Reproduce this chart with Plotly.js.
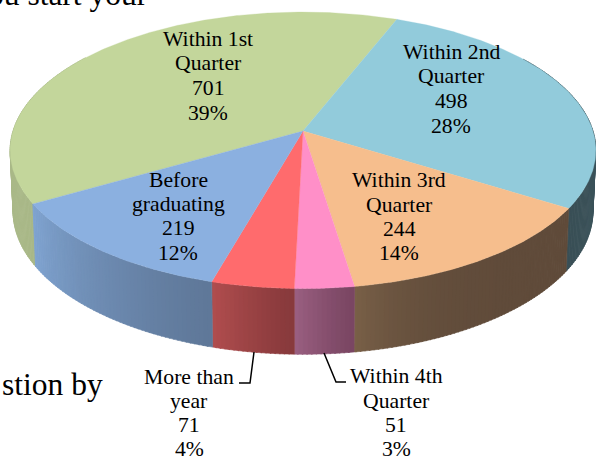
<!DOCTYPE html>
<html>
<head>
<meta charset="utf-8">
<script src="https://cdn.plot.ly/plotly-3.0.1.min.js"></script>
<style>html,body{margin:0;padding:0;background:#fff;overflow:hidden}</style>
</head>
<body>
<div id="chart" style="width:596px;height:459px"></div>
<script>
// Data
const categories = ["Within 1st Quarter", "Within 2nd Quarter", "Within 3rd Quarter", "Within 4th Quarter", "More than year", "Before graduating"];
const values = [701, 498, 244, 51, 71, 219];
const labelLines = [["Within 1st", "Quarter"], ["Within 2nd", "Quarter"], ["Within 3rd", "Quarter"], ["Within 4th", "Quarter"], ["More than", "year"], ["Before", "graduating"]];
const topColors = ["#C3D69B", "#92CBDB", "#F6BE8D", "#FF8FC8", "#FF6B6D", "#8BB0E0"];
const wallStart = ["#A9B888", "#3F5A62", "#604B3A", "#7A4663", "#883A3C", "#5F7899"];
const wallEnd = ["#A9B888", "#3A5057", "#7A6148", "#9C6082", "#B24E4F", "#80A4D1"];
const labelX = [208, 451, 399, 396, 189, 178];
const labelY = [[39, 63, 88, 113], [52, 76, 101, 126], [180, 205, 229, 253], [376, 401, 425, 449], [377, 401, 425, 449], [180, 204, 228, 253]];
const bodyText = [["ou start your", 150, 14, "bottom"], ["stion by", 105, 384, "middle"]];
const leaders = [[[254, 352], [250, 383], [239, 383]], [[324, 353], [336, 382], [346, 382]]];

// Geometry of the tilted pie
const startAngle = 240, cx = 303, cy = 131, rx = 290, ry = 135.6, persp = 0.14;
const rad = Math.PI / 180;
function rim(a) {
  const d = 1 + persp * Math.cos(a * rad);
  return [cx + rx * Math.sin(a * rad) / d, cy - ry * Math.cos(a * rad) / d];
}
function lower(p) {
  return [cx + (p[0] - cx) * 0.99, cy + (p[1] - cy) * 1.034 + 60.2];
}
function hex(c) { return [1, 3, 5].map(i => parseInt(c.substr(i, 2), 16)); }
function mix(a, b, t) {
  const A = hex(a), B = hex(b);
  return "rgb(" + A.map((v, i) => Math.round(v + (B[i] - v) * t)).join(",") + ")";
}

const total = values.reduce((s, v) => s + v, 0);
const traces = [];
const common = {type: "scatter", mode: "lines", fill: "toself", hoverinfo: "skip", showlegend: false};

let a0 = startAngle;
const slices = values.map(v => {
  const s = {from: a0, to: a0 + v / total * 360};
  a0 = s.to;
  return s;
});

// Side walls, in thin shaded strips
const stripStep = 0.8;
slices.forEach((s, i) => {
  for (let a = s.from; a < s.to; a += stripStep) {
    const b = Math.min(a + stripStep + 0.2, s.to);
    const norm = ((a % 360) + 360) % 360;
    if (norm < 55 || norm > 305) continue;
    const t = Math.pow((a - s.from) / (s.to - s.from), i === 2 ? 5 : 1.2);
    const col = mix(wallStart[i], wallEnd[i], t);
    const p = rim(a), q = rim(b), r = lower(q), w = lower(p);
    traces.push(Object.assign({}, common, {
      x: [p[0], q[0], r[0], w[0], p[0]],
      y: [p[1], q[1], r[1], w[1], p[1]],
      fillcolor: col,
      line: {color: col, width: 0.6}
    }));
  }
});

// Top face
slices.forEach((s, i) => {
  const xs = [cx], ys = [cy];
  for (let a = s.from; a < s.to; a += 0.5) {
    const p = rim(a);
    xs.push(p[0]);
    ys.push(p[1]);
  }
  const e = rim(s.to);
  xs.push(e[0], cx);
  ys.push(e[1], cy);
  traces.push(Object.assign({}, common, {
    x: xs, y: ys, fillcolor: topColors[i], line: {color: topColors[i], width: 0.3}, name: categories[i]
  }));
});

// Leader lines
leaders.forEach(l => traces.push({
  type: "scatter", mode: "lines", hoverinfo: "skip", showlegend: false,
  x: l.map(p => p[0]), y: l.map(p => p[1]), line: {color: "#000", width: 1.5}
}));

// Labels
const annotations = [];
function addText(text, x, y, size, anchor, vanchor, boxHeight) {
  const ann = {
    text: text, x: x, y: y, xref: "x", yref: "y", showarrow: false,
    xanchor: anchor || "center", yanchor: vanchor || "middle",
    font: {family: "Liberation Serif, serif", size: size, color: "#000"}
  };
  if (boxHeight) ann.height = boxHeight;
  annotations.push(ann);
}
values.forEach((v, i) => {
  const lines = labelLines[i].concat([String(v), Math.round(v / total * 100) + "%"]);
  lines.forEach((t, j) => addText(t, labelX[i], labelY[i][j], 21.7, "center", "middle", j === 3 ? 20 : 0));
});
bodyText.forEach(b => addText(b[0], b[1], b[2], 31.5, "right", b[3]));

Plotly.newPlot("chart", traces, {
  width: 596, height: 459, autosize: false,
  margin: {l: 0, r: 0, t: 0, b: 0},
  paper_bgcolor: "#fff", plot_bgcolor: "#fff",
  xaxis: {range: [0, 596], visible: false, fixedrange: true},
  yaxis: {range: [459, 0], visible: false, fixedrange: true},
  annotations: annotations
}, {displayModeBar: false, staticPlot: true});
</script>
</body>
</html>
